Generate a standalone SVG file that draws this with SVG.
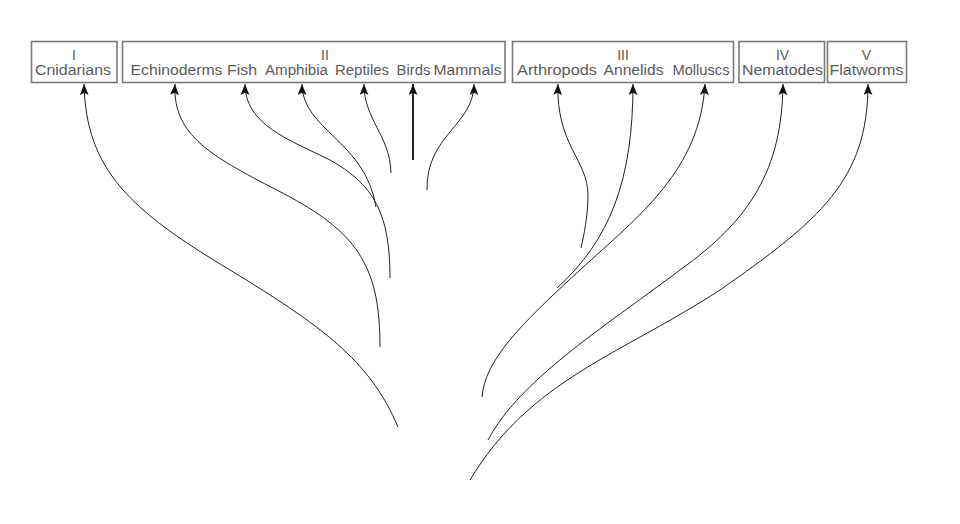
<svg xmlns="http://www.w3.org/2000/svg" width="960" height="524" viewBox="0 0 960 524">
<style>
.box{fill:#fff;stroke:#7a7a7a;stroke-width:1.6}
.t{font-family:"Liberation Sans",Arial,sans-serif;font-size:14px;fill:#5a5a5a;text-anchor:middle}
.c{fill:none;stroke:#222;stroke-width:1}
</style>
<defs>
<marker id="ah" markerUnits="userSpaceOnUse" viewBox="0 0 10 8" markerWidth="11" markerHeight="9" refX="10" refY="4" orient="auto-start-reverse">
<path d="M0,0 L10,4 L0,8 L2,4 z" fill="#111"/>
</marker>
</defs>
<rect width="960" height="524" fill="#fff"/>
<g id="node-I">
<rect class="box" x="31.5" y="41.5" width="85.5" height="41"/>
<text class="t" x="74" y="60">I</text>
<text class="t" x="73" y="75" textLength="76" lengthAdjust="spacingAndGlyphs">Cnidarians</text>
</g>
<g id="node-II">
<rect class="box" x="122.5" y="41.5" width="382.5" height="41"/>
<text class="t" x="325" y="60">II</text>
<text class="t" x="176.5" y="75" textLength="92" lengthAdjust="spacingAndGlyphs">Echinoderms</text>
<text class="t" x="242" y="75" textLength="30" lengthAdjust="spacingAndGlyphs">Fish</text>
<text class="t" x="296.5" y="75" textLength="63" lengthAdjust="spacingAndGlyphs">Amphibia</text>
<text class="t" x="362" y="75" textLength="54" lengthAdjust="spacingAndGlyphs">Reptiles</text>
<text class="t" x="413.5" y="75" textLength="34" lengthAdjust="spacingAndGlyphs">Birds</text>
<text class="t" x="467.5" y="75" textLength="68" lengthAdjust="spacingAndGlyphs">Mammals</text>
</g>
<g id="node-III">
<rect class="box" x="512.5" y="41.5" width="221" height="41"/>
<text class="t" x="623" y="60">III</text>
<text class="t" x="557" y="75" textLength="80" lengthAdjust="spacingAndGlyphs">Arthropods</text>
<text class="t" x="633.5" y="75" textLength="60" lengthAdjust="spacingAndGlyphs">Annelids</text>
<text class="t" x="701" y="75" textLength="57" lengthAdjust="spacingAndGlyphs">Molluscs</text>
</g>
<g id="node-IV">
<rect class="box" x="739" y="41.5" width="85.5" height="41"/>
<text class="t" x="782.5" y="60">IV</text>
<text class="t" x="782.5" y="75" textLength="81" lengthAdjust="spacingAndGlyphs">Nematodes</text>
</g>
<g id="node-V">
<rect class="box" x="827.5" y="41.5" width="79" height="41"/>
<text class="t" x="866.5" y="60">V</text>
<text class="t" x="866.5" y="75" textLength="74" lengthAdjust="spacingAndGlyphs">Flatworms</text>
</g>
<g id="connectors" marker-start="url(#ah)">
<path class="c" d="M84,84 C86,170 130,210 230,270 C320,325 370,360 398,427"/>
<path class="c" d="M175,84 C172,140 220,160 290,197 C360,235 380,270 380,347"/>
<path class="c" d="M245,84 C245,125 290,140 330,160 C375,185 390,215 390,278"/>
<path class="c" d="M302,84 C302,130 365,140 376,207"/>
<path class="c" d="M364,84 C364,120 390,135 391,173"/>
<path class="c" d="M413,84 L413,160" style="stroke-width:2"/>
<path class="c" d="M474,84 C474,125 426,135 427,190"/>
<path class="c" d="M558,84 C556,145 588,160 588,195 C588,215 584,235 581,248"/>
<path class="c" d="M633,84 C633,180 610,240 557,288"/>
<path class="c" d="M705,84 C700,170 640,215 580,270 C520,325 485,360 482,397"/>
<path class="c" d="M783,84 C782,170 750,220 680,270 C600,330 520,380 488,440"/>
<path class="c" d="M868,84 C868,180 820,220 720,290 C620,355 530,380 470,480"/>
</g>
</svg>
